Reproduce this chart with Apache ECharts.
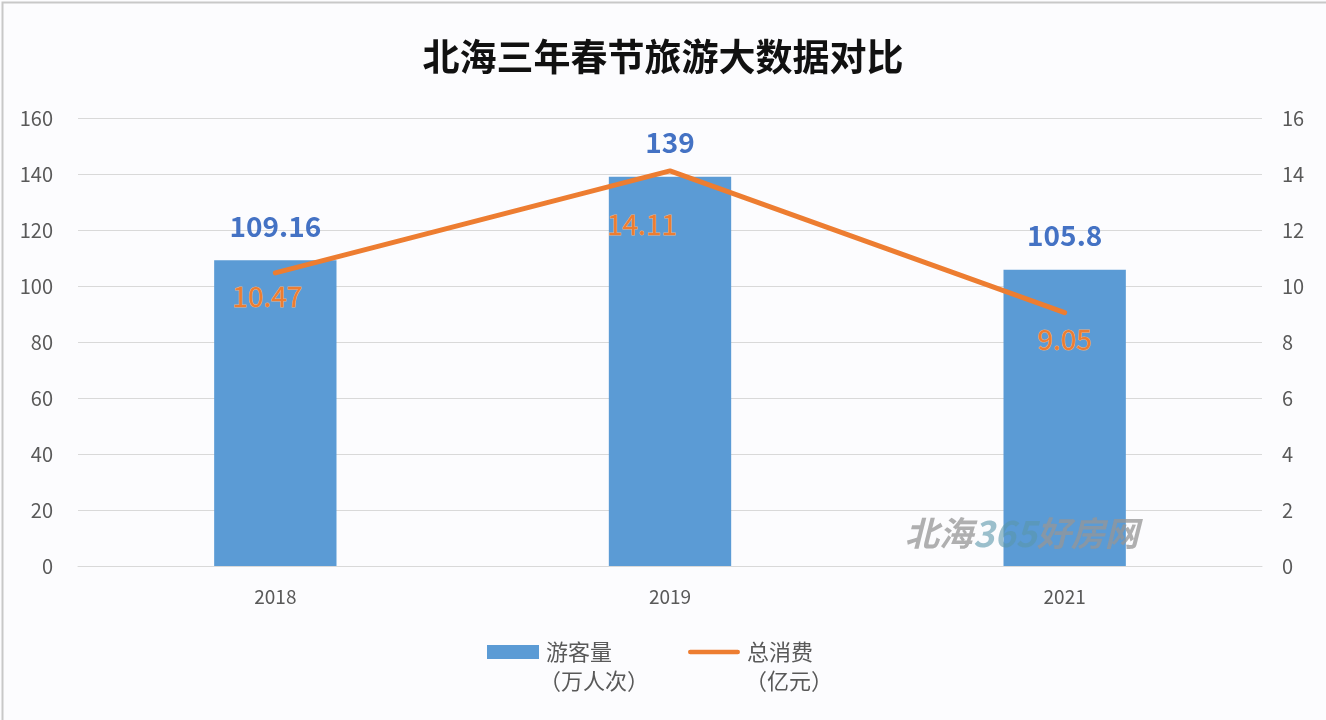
<!DOCTYPE html>
<html><head><meta charset="utf-8">
<script src="https://cdn.jsdelivr.net/npm/echarts@6/dist/echarts.min.js"></script>
<style>html,body{margin:0;padding:0;background:#fcfcfe}#c{width:1326px;height:720px}</style>
</head><body><div id="c"></div>
<script>
const categories = ['2018', '2019', '2021'];
const visitors = [109.16, 139, 105.8];      // 游客量（万人次）
const spending = [10.47, 14.11, 9.05];      // 总消费（亿元）
const leftTicks = [0, 160, 20];
const rightTicks = [0, 16, 2];
const lineLabelOffsets = [[-8, 0], [-28, 30], [0, 3]];

const FONT = '"Noto Sans CJK SC", "Noto Sans", sans-serif';
const chart = echarts.init(document.getElementById('c'), null, {renderer: 'canvas'});
chart.setOption({
  backgroundColor: '#fcfcfe',
  textStyle: {fontFamily: FONT},
  title: {
    text: '北海三年春节旅游大数据对比', left: 'center', top: 33,
    textStyle: {fontSize: 37, fontWeight: 'bold', color: '#111', fontFamily: FONT}
  },
  grid: {left: 78, right: 64, top: 118, bottom: 154},
  legend: {
    left: 482, top: 636, itemWidth: 52, itemHeight: 14, itemGap: 76,
    textStyle: {fontSize: 22, color: '#595959', fontFamily: FONT, padding: [0, 0, 0, 2]},
    data: [
      {name: '游客量', icon: 'rect'},
      {name: '总消费', icon: 'path://M2,0 L53,0 A2.5,2.5 0 0 1 53,5 L2,5 A2.5,2.5 0 0 1 2,0 Z'}
    ]
  },
  xAxis: {
    type: 'category', data: categories,
    axisLine: {lineStyle: {color: '#d9d9d9'}}, axisTick: {show: false},
    axisLabel: {fontSize: 19, color: '#595959', margin: 21}
  },
  yAxis: [
    {type: 'value', min: leftTicks[0], max: leftTicks[1], interval: leftTicks[2],
     axisLabel: {fontSize: 20, color: '#595959', margin: 25},
     splitLine: {lineStyle: {color: '#d9d9d9', width: 1}}, axisLine: {show: false}, axisTick: {show: false}},
    {type: 'value', min: rightTicks[0], max: rightTicks[1], interval: rightTicks[2],
     axisLabel: {fontSize: 20, color: '#595959', margin: 20},
     splitLine: {show: false}, axisLine: {show: false}, axisTick: {show: false}}
  ],
  series: [
    {name: '游客量', type: 'bar', data: visitors, barWidth: '31%', yAxisIndex: 0,
     itemStyle: {color: '#5b9bd5'},
     label: {show: true, position: 'top', distance: 20, fontSize: 28, fontWeight: 'bold', color: '#4472c4', fontFamily: FONT}},
    {name: '总消费', type: 'line', yAxisIndex: 1, z: 5,
     data: spending.map((v, i) => ({value: v, label: {offset: lineLabelOffsets[i]}})),
     symbol: 'circle', symbolSize: 1, showSymbol: true,
     lineStyle: {color: '#ed7d31', width: 5, cap: 'round', join: 'round'},
     itemStyle: {color: '#ed7d31'},
     label: {show: true, position: 'bottom', distance: 9, fontSize: 28, color: '#ed7d31',
             textBorderColor: '#f4b183', textBorderWidth: 1, fontFamily: FONT}}
  ],
  graphic: [
    {type: 'rect', left: 0, top: 0, shape: {width: 1325, height: 719}, style: {fill: 'none', stroke: '#c8c8c8', lineWidth: 2}, silent: true},
    {type: 'text', left: 539, top: 670, style: {text: '（万人次）', fontSize: 22, fill: '#595959', fontFamily: FONT}},
    {type: 'text', left: 745, top: 670, style: {text: '（亿元）', fontSize: 22, fill: '#595959', fontFamily: FONT}},
    {type: 'text', left: 905, top: 515, z: 10, style: {
      text: '{a|北海}{b|365}{a|好房网}',
      rich: {
        a: {fontSize: 34, fontStyle: 'italic', fontWeight: 'bold', fill: 'rgba(150,150,150,0.75)', fontFamily: FONT},
        b: {fontSize: 36, fontStyle: 'italic', fontWeight: 'bold', fill: 'rgba(90,150,170,0.6)', fontFamily: FONT}
      }}}
  ]
});
</script></body></html>
